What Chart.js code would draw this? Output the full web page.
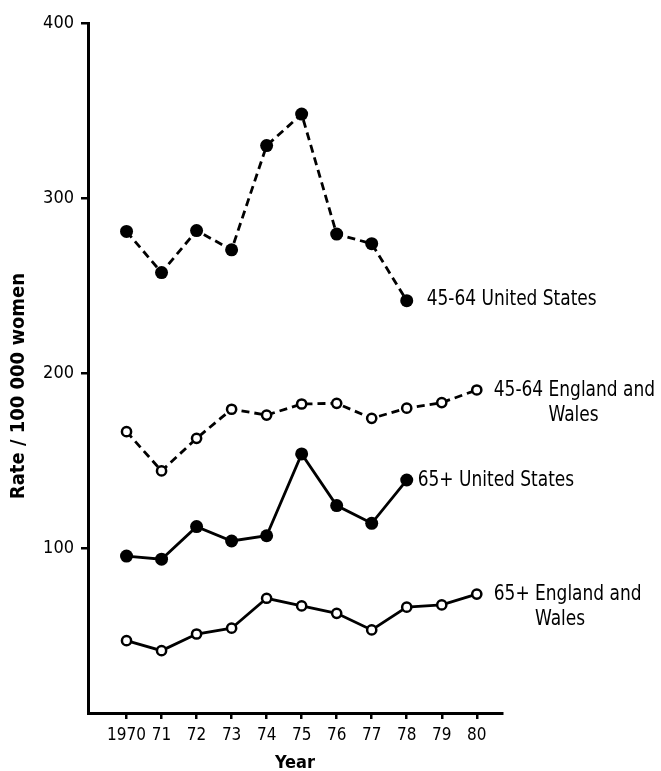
<!DOCTYPE html>
<html>
<head>
<meta charset="utf-8">
<script src="https://cdn.jsdelivr.net/npm/chart.js@4.4.0/dist/chart.umd.min.js"></script>
<style>
  body { margin: 0; background: #fff; }
  canvas { display: block; }
</style>
</head>
<body>
<canvas id="chart" width="661" height="771"></canvas>
<script>
// Years on the x axis and their printed labels
const years = [1970, 1971, 1972, 1973, 1974, 1975, 1976, 1977, 1978, 1979, 1980];
const yearLabels = ['1970', '71', '72', '73', '74', '75', '76', '77', '78', '79', '80'];
const yTicks = [100, 200, 300, 400];

// Rate / 100 000 women
const us4564 = [281, 257.5, 281.5, 270.5, 330, 348, 279.5, 274, 241.5];
const ew4564 = [166.7, 144.3, 162.9, 179.5, 176.2, 182.5, 182.9, 174.3, 180.1, 183.3, 190.5];
const us65 = [95.7, 93.9, 112.5, 104.3, 107.3, 154, 124.5, 114.4, 139.1];
const ew65 = [47.4, 41.7, 51.2, 54.5, 71.6, 67.2, 63, 53.5, 66.5, 67.8, 74];

const seriesNames = [
    ['45-64 United States'],
    ['45-64 England and', 'Wales'],
    ['65+ United States'],
    ['65+ England and', 'Wales']
];
const yTitle = 'Rate / 100 000 women';

const FONT = '"DejaVu Sans Condensed", "DejaVu Sans", sans-serif';

function toPoints(values) {
    return values.map((v, i) => ({ x: years[i], y: v }));
}

// Writes the series names beside the last point of each line, plus the y title
const annotations = {
    id: 'annotations',
    afterDatasetsDraw(chart) {
        const ctx = chart.ctx;
        const gaps = [20, 17, 11, 17];
        const dy = [-1, 1, 1, 0];
        ctx.save();
        ctx.fillStyle = '#000';
        ctx.textBaseline = 'middle';
        ctx.font = `21px ${FONT}`;
        chart.data.datasets.forEach((ds, i) => {
            const pts = chart.getDatasetMeta(i).data;
            const last = pts[pts.length - 1];
            const lines = seriesNames[i];
            ctx.save();
            ctx.translate(last.x + gaps[i], last.y + dy[i]);
            ctx.scale(0.9, 1); // the printed lettering is narrower than DejaVu
            ctx.fillText(lines[0], 0, 0);
            if (lines[1]) {
                const prefix = lines[0].split(' ')[0] + ' ';
                ctx.fillText(lines[1], ctx.measureText(prefix).width, 25);
            }
            ctx.restore();
        });

        ctx.font = `bold 20px ${FONT}`;
        ctx.textAlign = 'center';
        ctx.translate(19, 386);
        ctx.rotate(-Math.PI / 2);
        ctx.fillText(yTitle, 0, 0);
        ctx.restore();
    }
};

const filled = { pointRadius: 6.5, pointBackgroundColor: '#000', pointBorderWidth: 0 };
const open = { pointRadius: 4.6, pointBackgroundColor: '#fff', pointBorderColor: '#000', pointBorderWidth: 2.5 };

const ctx = document.getElementById('chart').getContext('2d');
new Chart(ctx, {
    type: 'line',
    data: {
        datasets: [
            { label: seriesNames[0].join(' '), data: toPoints(us4564), borderColor: '#000', borderWidth: 2.8, borderDash: [8, 5], ...filled },
            { label: seriesNames[1].join(' '), data: toPoints(ew4564), borderColor: '#000', borderWidth: 2.8, borderDash: [8, 5], ...open },
            { label: seriesNames[2].join(' '), data: toPoints(us65), borderColor: '#000', borderWidth: 2.8, ...filled },
            { label: seriesNames[3].join(' '), data: toPoints(ew65), borderColor: '#000', borderWidth: 2.8, ...open }
        ]
    },
    options: {
        responsive: false,
        animation: false,
        devicePixelRatio: 1,
        layout: { padding: { left: 0, top: 23, right: 159, bottom: 0 } },
        plugins: {
            legend: { display: false },
            tooltip: { enabled: false }
        },
        scales: {
            x: {
                type: 'linear',
                min: 1968.9,
                max: 1980.72,
                afterBuildTicks: (scale) => { scale.ticks = years.map(v => ({ value: v })); },
                afterFit: (scale) => { scale.height = 58; },
                border: { color: '#000', width: 3 },
                grid: { drawOnChartArea: false, color: '#000', lineWidth: 2.5, tickLength: 6 },
                ticks: {
                    color: '#000',
                    font: { family: FONT, size: 17 },
                    padding: 6,
                    maxRotation: 0,
                    autoSkip: false,
                    callback: (v) => yearLabels[years.indexOf(v)] || ''
                },
                title: {
                    display: true,
                    text: 'Year',
                    color: '#000',
                    font: { family: FONT, size: 18, weight: 'bold' },
                    padding: { top: 0, bottom: -3 }
                }
            },
            y: {
                min: 6.1,
                max: 400,
                afterBuildTicks: (scale) => { scale.ticks = yTicks.map(v => ({ value: v })); },
                afterFit: (scale) => { scale.width = 88; },
                border: { color: '#000', width: 3 },
                grid: { drawOnChartArea: false, color: '#000', lineWidth: 2.5, tickLength: 7 },
                ticks: {
                    color: '#000',
                    font: { family: FONT, size: 18 },
                    padding: 7
                }
            }
        }
    },
    plugins: [annotations]
});
</script>
</body>
</html>
